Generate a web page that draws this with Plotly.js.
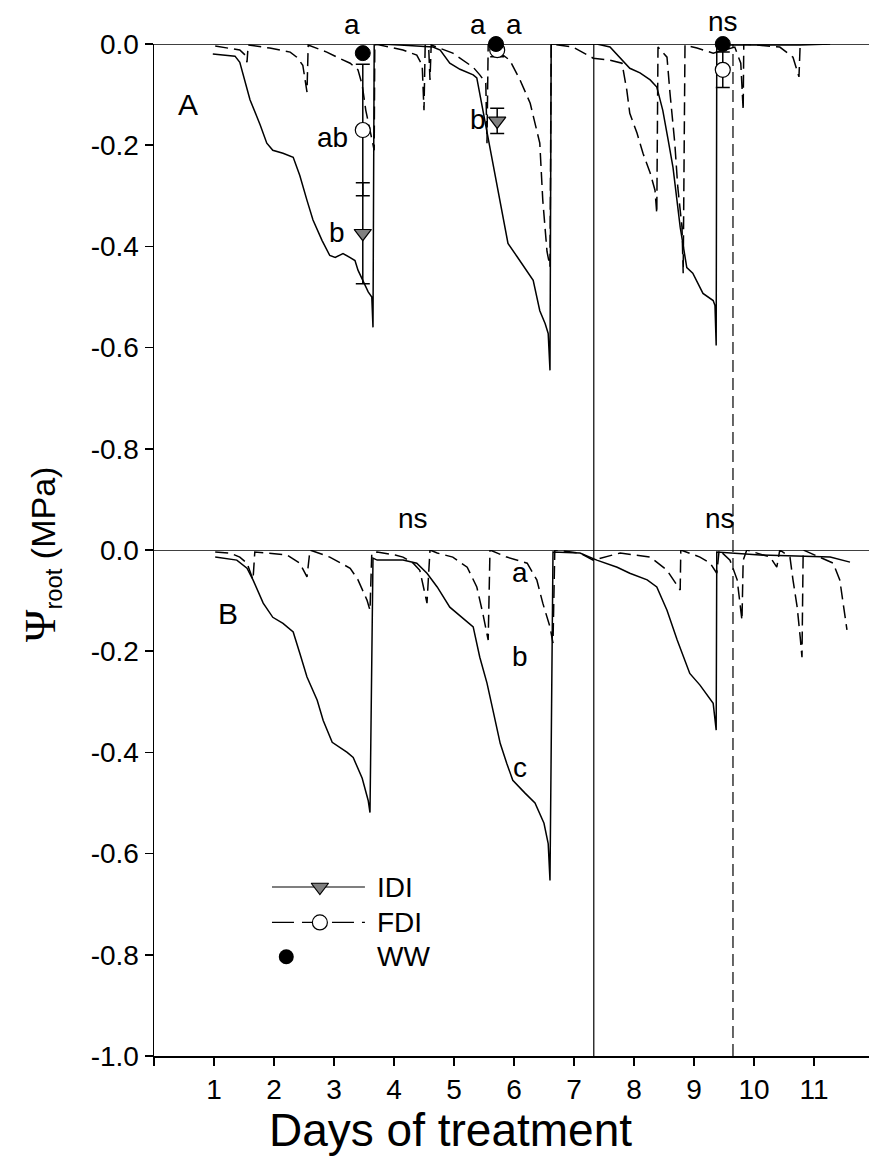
<!DOCTYPE html>
<html><head><meta charset="utf-8">
<script src="https://cdn.plot.ly/plotly-3.0.1.min.js"></script>
<style>body{margin:0;background:#fff}#c{width:869px;height:1171px}</style>
</head><body><div id="c"></div>
<script>
// ---- Panel A (upper) ----
const A_IDI_day = [0.98,1.35,1.43,1.6,1.77,1.88,1.98,2.15,2.32,2.43,2.55,2.65,2.8,2.93,3.02,3.15,3.27,3.35,3.4,3.48,3.57,3.63,3.65,3.67,3.77,4.1,4.65,4.77,4.93,5.1,5.32,5.38,5.55,5.77,5.9,6.05,6.22,6.32,6.43,6.52,6.57,6.6,6.62,6.65,7.38,7.6,7.77,7.93,8.1,8.27,8.38,8.48,8.57,8.65,8.77,8.88,8.98,9.15,9.32,9.35,9.37,9.38,9.6,10.77,11.27];
const A_IDI_psi = [-0.02,-0.024,-0.036,-0.11,-0.16,-0.196,-0.21,-0.216,-0.224,-0.26,-0.309,-0.348,-0.388,-0.418,-0.422,-0.414,-0.422,-0.428,-0.447,-0.467,-0.49,-0.5,-0.56,-0.002,0,-0.002,-0.006,-0.012,-0.038,-0.05,-0.061,-0.067,-0.176,-0.309,-0.394,-0.42,-0.45,-0.467,-0.527,-0.553,-0.572,-0.645,0,0,0,-0.006,-0.028,-0.048,-0.057,-0.071,-0.085,-0.131,-0.19,-0.244,-0.362,-0.442,-0.453,-0.493,-0.507,-0.517,-0.596,0,-0.002,-0.002,0];
const A_FDI_day = [1.02,1.43,1.52,1.55,1.57,1.93,2.27,2.38,2.48,2.55,2.57,2.88,3.05,3.27,3.4,3.47,3.53,3.6,3.67,3.68,4.15,4.38,4.47,4.5,4.52,4.58,4.6,4.62,4.98,5.32,5.43,5.53,5.55,5.57,5.93,6.1,6.27,6.43,6.48,6.55,6.6,6.62,6.98,7.32,7.6,7.8,7.88,7.93,8.05,8.15,8.27,8.35,8.38,8.4,8.55,8.6,8.68,8.73,8.8,8.82,8.85,9.05,9.32,9.68,9.78,9.82,9.83,10.43,10.65,10.75,10.77,11.22];
const A_FDI_psi = [-0.004,-0.012,-0.022,-0.036,-0.002,-0.008,-0.016,-0.026,-0.042,-0.095,-0.002,-0.016,-0.026,-0.038,-0.051,-0.081,-0.131,-0.17,-0.21,0,-0.012,-0.022,-0.042,-0.131,-0.002,-0.012,-0.071,-0.002,-0.018,-0.046,-0.061,-0.077,-0.196,0,-0.032,-0.071,-0.117,-0.196,-0.309,-0.41,-0.44,0,-0.006,-0.028,-0.032,-0.038,-0.091,-0.137,-0.176,-0.216,-0.255,-0.289,-0.335,-0.006,-0.026,-0.097,-0.196,-0.283,-0.362,-0.453,-0.002,-0.008,-0.018,-0.006,-0.038,-0.131,0,-0.006,-0.026,-0.065,0,0];
// sampled means (symbols) and standard errors, panel A
const WW_day = [3.48,5.7,9.48];
const WW_psi = [-0.018,0,0];
const FDI_day = [3.48,5.72,9.48];
const FDI_psi = [-0.17,-0.012,-0.051];
const FDI_se = [0.13,0.013,0.035];
const IDI_day = [3.48,5.72];
const IDI_psi = [-0.374,-0.152];
const IDI_se = [0.1,0.025];
// ---- Panel B (lower) ----
const B_IDI_day = [1.02,1.38,1.55,1.65,1.82,1.98,2.15,2.32,2.43,2.55,2.72,2.82,2.97,3.1,3.22,3.32,3.47,3.57,3.6,3.65,3.72,4.15,4.38,4.55,4.72,4.93,5.32,5.43,5.55,5.65,5.77,5.88,5.98,6.18,6.35,6.5,6.57,6.6,6.65,7.1,7.38,7.72,7.93,8.22,8.38,8.55,8.72,8.93,9.1,9.32,9.37,9.38,10.1,11.27,11.6];
const B_IDI_psi = [-0.014,-0.02,-0.036,-0.059,-0.105,-0.133,-0.145,-0.162,-0.204,-0.251,-0.297,-0.337,-0.38,-0.39,-0.4,-0.41,-0.451,-0.495,-0.519,-0.016,-0.02,-0.02,-0.026,-0.046,-0.073,-0.113,-0.152,-0.212,-0.263,-0.317,-0.382,-0.422,-0.455,-0.48,-0.5,-0.54,-0.58,-0.653,-0.004,-0.006,-0.02,-0.034,-0.046,-0.059,-0.073,-0.119,-0.178,-0.244,-0.267,-0.303,-0.356,-0.004,-0.01,-0.014,-0.024];
const B_FDI_day = [1.02,1.27,1.43,1.55,1.65,1.68,1.88,2.22,2.43,2.55,2.6,2.93,3.27,3.4,3.55,3.6,3.63,3.72,4.02,4.15,4.32,4.43,4.55,4.6,4.72,4.98,5.22,5.38,5.48,5.57,5.6,5.88,6.22,6.38,6.48,6.6,6.65,6.68,7.1,7.32,7.77,8.27,8.55,8.65,8.77,8.78,9.1,9.27,9.38,9.42,9.6,9.72,9.77,9.8,9.82,9.88,10.27,10.38,10.43,10.6,10.65,10.72,10.77,10.8,10.82,11.1,11.32,11.43,11.48,11.55];
const B_FDI_psi = [-0.004,-0.006,-0.014,-0.026,-0.059,-0.004,-0.006,-0.01,-0.026,-0.053,0,-0.014,-0.036,-0.059,-0.099,-0.119,-0.006,-0.004,-0.01,-0.014,-0.026,-0.04,-0.105,0,-0.006,-0.014,-0.034,-0.073,-0.125,-0.178,0,-0.014,-0.026,-0.059,-0.105,-0.152,-0.184,0,-0.006,-0.02,-0.006,-0.014,-0.04,-0.059,-0.079,0,-0.014,-0.026,-0.046,0,-0.02,-0.059,-0.105,-0.139,-0.02,0,-0.014,-0.034,0,-0.014,-0.059,-0.113,-0.172,-0.212,0,-0.014,-0.026,-0.059,-0.105,-0.158];
// reference events (vertical lines)
const eventSolidDay = 7.33;
const eventDashDay = 9.65;
// tick labels
const xTickVals = [0,1,2,3,4,5,6,7,8,9,10,11];
const xTickText = ['','1','2','3','4','5','6','7','8','9','10','11'];
const yTickValsA = [0,-0.2,-0.4,-0.6,-0.8];
const yTickTextA = ['0.0','-0.2','-0.4','-0.6','-0.8'];
const yTickValsB = [0,-0.2,-0.4,-0.6,-0.8,-1.0];
const yTickTextB = ['0.0','-0.2','-0.4','-0.6','-0.8','-1.0'];

const F = 'Liberation Sans, Arial, sans-serif';
const TS = 28;
const dashPat = '13px,6px';
const traces = [
 {x:A_IDI_day,y:A_IDI_psi,xaxis:'x',yaxis:'y2',mode:'lines',line:{color:'#000',width:1.5},showlegend:false},
 {x:A_FDI_day,y:A_FDI_psi,xaxis:'x',yaxis:'y2',mode:'lines',line:{color:'#000',width:1.5,dash:dashPat},showlegend:false},
 {x:B_IDI_day,y:B_IDI_psi,xaxis:'x',yaxis:'y',mode:'lines',line:{color:'#000',width:1.5},showlegend:false},
 {x:B_FDI_day,y:B_FDI_psi,xaxis:'x',yaxis:'y',mode:'lines',line:{color:'#000',width:1.5,dash:dashPat},showlegend:false},
 {x:IDI_day,y:IDI_psi,xaxis:'x',yaxis:'y2',mode:'markers',cliponaxis:false,
  error_y:{type:'data',array:IDI_se,visible:true,color:'#000',thickness:1.5,width:7},
  marker:{symbol:'triangle-down',size:15,color:'#808080',line:{color:'#000',width:1.2}},showlegend:false},
 {x:FDI_day,y:FDI_psi,xaxis:'x',yaxis:'y2',mode:'markers',cliponaxis:false,
  error_y:{type:'data',array:FDI_se,visible:true,color:'#000',thickness:1.5,width:7},
  marker:{symbol:'circle',size:15,color:'#fff',line:{color:'#000',width:1.2}},showlegend:false},
 {x:WW_day,y:WW_psi,xaxis:'x',yaxis:'y2',mode:'markers',cliponaxis:false,
  marker:{symbol:'circle',size:15,color:'#000',line:{color:'#000',width:1}},showlegend:false},
 // legend samples on a hidden overlay
 {x:[0.165,0.295],y:[0.167,0.167],xaxis:'x3',yaxis:'y3',mode:'lines',line:{color:'#000',width:1.2},showlegend:false,cliponaxis:false},
 {x:[0.232],y:[0.167],xaxis:'x3',yaxis:'y3',mode:'markers',marker:{symbol:'triangle-down',size:15,color:'#808080',line:{color:'#000',width:1.2}},showlegend:false,cliponaxis:false},
 {x:[0.165,0.295],y:[0.132,0.132],xaxis:'x3',yaxis:'y3',mode:'lines',line:{color:'#000',width:1.2,dash:'22px,8px'},showlegend:false,cliponaxis:false},
 {x:[0.232],y:[0.132],xaxis:'x3',yaxis:'y3',mode:'markers',marker:{symbol:'circle',size:15,color:'#fff',line:{color:'#000',width:1.2}},showlegend:false,cliponaxis:false},
 {x:[0.185],y:[0.098],xaxis:'x3',yaxis:'y3',mode:'markers',marker:{symbol:'circle',size:15,color:'#000'},showlegend:false,cliponaxis:false}
];
function ann(x,y,yref,t,size){return {x:x,y:y,xref:'x',yref:yref,xanchor:'center',yanchor:'middle',text:t,showarrow:false,font:{family:F,size:size||TS,color:'#000'}};}
const annotations = [
 ann(0.57,-0.12,'y2','A',30), ann(3.3,1.019,'paper','a'), ann(2.98,-0.185,'y2','ab'), ann(3.05,-0.372,'y2','b'),
 ann(5.4,1.019,'paper','a'), ann(6.0,1.019,'paper','a'), ann(5.4,-0.15,'y2','b'), ann(9.48,1.022,'paper','ns'),
 ann(1.23,-0.125,'y','B',30), ann(4.32,0.531,'paper','ns'), ann(9.43,0.531,'paper','ns'),
 ann(6.1,-0.045,'y','a'), ann(6.1,-0.21,'y','b'), ann(6.1,-0.43,'y','c'),
 {x:0.309,y:0.167,xref:'x3',yref:'y3',xanchor:'left',yanchor:'middle',text:'IDI',showarrow:false,font:{family:F,size:TS}},
 {x:0.309,y:0.132,xref:'x3',yref:'y3',xanchor:'left',yanchor:'middle',text:'FDI',showarrow:false,font:{family:F,size:TS}},
 {x:0.309,y:0.098,xref:'x3',yref:'y3',xanchor:'left',yanchor:'middle',text:'WW',showarrow:false,font:{family:F,size:TS}},
 {x:-0.158,y:0.495,xref:'paper',yref:'paper',xanchor:'center',yanchor:'middle',text:'<span style="font-family:Liberation Serif,serif;font-size:44px">Ψ</span><sub>root</sub> (MPa)',textangle:-90,showarrow:false,font:{family:F,size:34}},
 {x:0.415,y:-0.073,xref:'paper',yref:'paper',xanchor:'center',yanchor:'middle',text:'Days of treatment',showarrow:false,font:{family:F,size:46}}
];
const shapes = [
 {type:'line',xref:'paper',x0:0,x1:1,yref:'y2',y0:0,y1:0,line:{color:'#000',width:1.5}},
 {type:'line',xref:'paper',x0:0,x1:1,yref:'y',y0:0,y1:0,line:{color:'#000',width:1.5}},
 {type:'line',xref:'x',x0:eventSolidDay,x1:eventSolidDay,yref:'paper',y0:0,y1:1,line:{color:'#000',width:1.2}},
 {type:'line',xref:'x',x0:eventDashDay,x1:eventDashDay,yref:'paper',y0:0,y1:1,line:{color:'#000',width:1.2,dash:'12px,6px'}}
];
const axY = {ticks:'outside',ticklen:8,tickwidth:1.5,tickcolor:'#000',showline:true,linecolor:'#000',linewidth:1.5,
  showgrid:false,zeroline:false,tickfont:{family:F,size:TS,color:'#000'},range:[-1,0],tickmode:'array'};
const layout = {
 width:869,height:1171,margin:{l:154,r:0,t:44,b:115},paper_bgcolor:'#fff',plot_bgcolor:'rgba(0,0,0,0)',
 font:{family:F,color:'#000'},showlegend:false,
 xaxis:{domain:[0,1],range:[0,11.917],tickmode:'array',tickvals:xTickVals,ticktext:xTickText,ticks:'outside',ticklen:8,tickwidth:1.5,tickcolor:'#000',
   showline:true,linecolor:'#000',linewidth:1.5,showgrid:false,zeroline:false,tickfont:{family:F,size:TS,color:'#000'},anchor:'y'},
 yaxis:Object.assign({},axY,{domain:[0,0.5],anchor:'x',tickvals:yTickValsB,ticktext:yTickTextB}),
 yaxis2:Object.assign({},axY,{domain:[0.5,1],anchor:'x',tickvals:yTickValsA,ticktext:yTickTextA}),
 xaxis3:{domain:[0,1],range:[0,1],visible:false,anchor:'y3'},
 yaxis3:{domain:[0,1],range:[0,1],visible:false,anchor:'x3'},
 annotations:annotations,shapes:shapes
};
Plotly.newPlot('c',traces,layout,{staticPlot:true});
</script></body></html>
